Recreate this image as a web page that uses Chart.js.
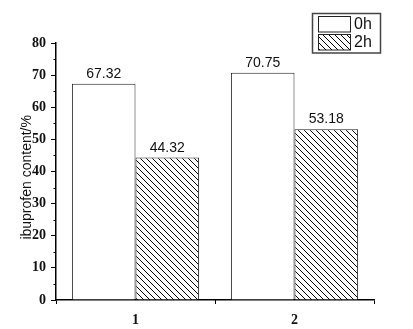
<!DOCTYPE html>
<html>
<head>
<meta charset="utf-8">
<script src="https://cdn.jsdelivr.net/npm/chart.js@4.4.0/dist/chart.umd.min.js"></script>
<style>
  body { margin: 0; background: #fff; }
  canvas { display: block; }
</style>
</head>
<body>
<canvas id="myChart" width="413" height="329"></canvas>
<script>
// data
const groups = ['1', '2'];
const seriesNames = ['0h', '2h'];
const values0h = [67.32, 70.75];
const values2h = [44.32, 53.18];
const yMin = 0;
const yMax = 80;
const yStep = 10;

const ctx = document.getElementById('myChart');

// diagonal "\\\" hatch used for the 2h bars
function makeHatch() {
  const size = 6;
  const c = document.createElement('canvas');
  c.width = size; c.height = size;
  const g = c.getContext('2d');
  g.fillStyle = '#fff';
  g.fillRect(0, 0, size, size);
  g.strokeStyle = '#000';
  g.lineWidth = 1;
  g.beginPath();
  g.moveTo(-1, -1); g.lineTo(size + 1, size + 1);
  g.moveTo(-1, size - 1); g.lineTo(1, size + 1);
  g.moveTo(size - 1, -1); g.lineTo(size + 1, 1);
  g.stroke();
  return g.createPattern(c, 'repeat');
}
const hatch = makeHatch();

const valueLabels = {
  id: 'valueLabels',
  afterDatasetsDraw(chart) {
    const c = chart.ctx;
    c.save();
    c.font = '14px "Liberation Sans", Arial, sans-serif';
    c.fillStyle = '#111';
    c.textAlign = 'center';
    c.textBaseline = 'alphabetic';
    chart.data.datasets.forEach((ds, i) => {
      chart.getDatasetMeta(i).data.forEach((bar, j) => {
        c.fillText(ds.data[j].toFixed(2), bar.x, bar.y - 6);
      });
    });
    c.restore();
  }
};

const minorTicks = {
  id: 'minorTicks',
  afterDraw(chart) {
    const c = chart.ctx;
    const y = chart.scales.y, x = chart.scales.x;
    c.save();
    c.strokeStyle = '#000';
    c.lineWidth = 1;
    c.beginPath();
    for (let v = yMin + yStep / 2; v < yMax; v += yStep) {
      const py = Math.round(y.getPixelForValue(v)) + 0.5;
      c.moveTo(y.right - 2.5, py);
      c.lineTo(y.right, py);
    }
    for (let k = 0; k < groups.length - 1; k++) {
      const px = Math.round(x.getPixelForValue(k + 0.5)) + 0.5;
      c.moveTo(px, x.top);
      c.lineTo(px, x.top + 2.5);
    }
    c.stroke();
    c.restore();
  }
};

const boxLegend = {
  id: 'boxLegend',
  afterDraw(chart) {
    const c = chart.ctx;
    c.save();
    c.strokeStyle = '#444';
    c.lineWidth = 1.5;
    c.strokeRect(312.5, 13.5, 68, 39.5);
    chart.data.datasets.forEach((ds, i) => {
      const top = 16.5 + i * 18;
      c.fillStyle = ds.backgroundColor;
      c.fillRect(318.5, top, 32, 15.5);
      c.strokeStyle = '#222';
      c.lineWidth = 1;
      c.strokeRect(318.5, top, 32, 15.5);
      c.fillStyle = '#111';
      c.font = '16px "Liberation Sans", Arial, sans-serif';
      c.textAlign = 'left';
      c.textBaseline = 'middle';
      c.fillText(ds.label, 354, top + 8.5);
    });
    c.restore();
  }
};

const tickFont = { family: '"Liberation Serif", "Times New Roman", serif', size: 14, weight: 'bold' };

new Chart(ctx, {
  type: 'bar',
  data: {
    labels: groups,
    datasets: [
      {
        label: seriesNames[0],
        data: values0h,
        backgroundColor: '#fff',
        borderColor: '#222',
        borderWidth: 1,
        categoryPercentage: 0.8,
        barPercentage: 1.0
      },
      {
        label: seriesNames[1],
        data: values2h,
        backgroundColor: hatch,
        borderColor: '#222',
        borderWidth: 1,
        categoryPercentage: 0.8,
        barPercentage: 1.0
      }
    ]
  },
  options: {
    responsive: false,
    animation: false,
    layout: { padding: { top: 43, right: 39, left: 0, bottom: 0 } },
    plugins: {
      legend: { display: false },
      tooltip: { enabled: false }
    },
    scales: {
      x: {
        afterFit(scale) { scale.height = 29; },
        grid: { display: true, drawOnChartArea: false, drawTicks: true, tickLength: 4, color: '#000' },
        border: { display: true, color: '#000', width: 1.5 },
        ticks: { font: tickFont, color: '#111', padding: 8 }
      },
      y: {
        min: yMin,
        max: yMax,
        afterFit(scale) { scale.width = 56; },
        grid: { display: true, drawOnChartArea: false, drawTicks: true, tickLength: 5, color: '#000' },
        border: { display: true, color: '#000', width: 1.5 },
        ticks: { stepSize: yStep, font: tickFont, color: '#111', padding: 5 },
        title: {
          display: true,
          text: 'ibuprofen content/%   ',
          font: { family: '"Liberation Sans", Arial, sans-serif', size: 14 },
          color: '#111',
          padding: { top: 19, bottom: 0 }
        }
      }
    }
  },
  plugins: [valueLabels, minorTicks, boxLegend]
});
</script>
</body>
</html>
